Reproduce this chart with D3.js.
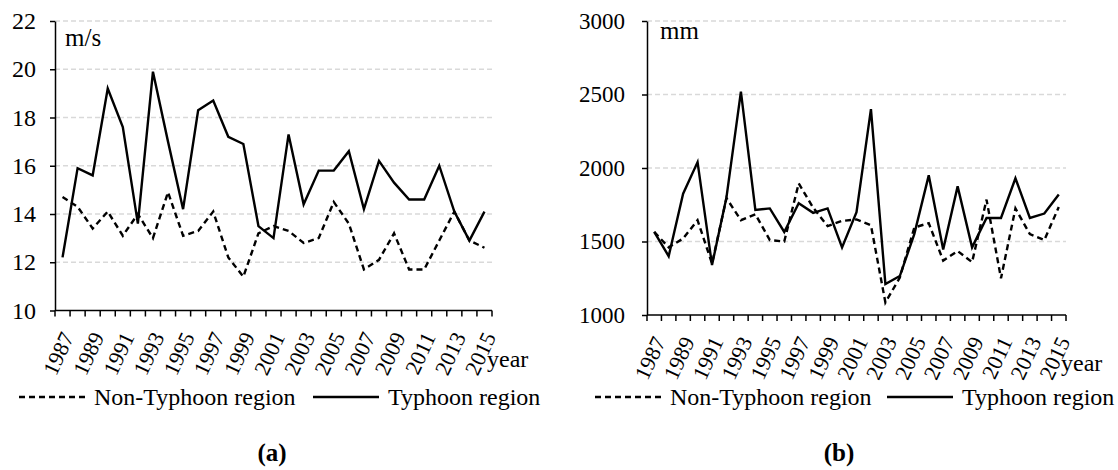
<!DOCTYPE html>
<html>
<head>
<meta charset="utf-8">
<script src="https://cdn.jsdelivr.net/npm/d3@7/dist/d3.min.js"></script>
<style>
  body { margin: 0; background: #fff; }
  svg text { font-family: "Liberation Serif", "Times New Roman", Times, serif; fill: #000; }
</style>
</head>
<body>
<svg id="chart" width="1118" height="470"></svg>
<script>
// 연도 (카테고리)
const years = [1987, 1988, 1989, 1990, 1991, 1992, 1993, 1994, 1995, 1996,
    1997, 1998, 1999, 2000, 2001, 2002, 2003, 2004, 2005, 2006,
    2007, 2008, 2009, 2010, 2011, 2012, 2013, 2014, 2015];

// (a) 풍속 m/s
const windTicks = [10, 12, 14, 16, 18, 20, 22];
const windNonTyphoon = [14.7, 14.3, 13.4, 14.1, 13.1, 14.0, 13.0, 14.9, 13.1, 13.3,
    14.1, 12.2, 11.4, 13.2, 13.5, 13.3, 12.8, 13.0, 14.5, 13.6,
    11.7, 12.1, 13.2, 11.7, 11.7, 12.9, 14.1, 12.9, 12.6];
const windTyphoon = [12.2, 15.9, 15.6, 19.2, 17.6, 13.6, 19.9, 17.0, 14.2, 18.3,
    18.7, 17.2, 16.9, 13.5, 13.0, 17.3, 14.4, 15.8, 15.8, 16.6,
    14.2, 16.2, 15.3, 14.6, 14.6, 16.0, 14.1, 12.9, 14.1];

// (b) 강수량 mm
const rainTicks = [1000, 1500, 2000, 2500, 3000];
const rainNonTyphoon = [1565, 1460, 1520, 1645, 1350, 1795, 1645, 1685, 1510, 1500,
    1895, 1730, 1605, 1640, 1650, 1610, 1085, 1255, 1595, 1625,
    1370, 1435, 1360, 1785, 1250, 1725, 1550, 1510, 1735];
const rainTyphoon = [1565, 1400, 1825, 2040, 1340, 1800, 2520, 1715, 1725, 1565,
    1760, 1695, 1725, 1460, 1700, 2400, 1210, 1265, 1550, 1950,
    1445, 1875, 1460, 1660, 1660, 1930, 1660, 1690, 1820];

const seriesNames = ['Non-Typhoon region', 'Typhoon region'];

const svg = d3.select('#chart');

function drawPanel(opt) {
    const g = svg.append('g');
    const x = d3.scaleBand().domain(years).range([opt.left, opt.right]).padding(0);
    const y = d3.scaleLinear().domain(d3.extent(opt.ticks)).range([opt.bottom, opt.top]);
    const cx = d => x(d) + x.bandwidth() / 2;

    // 그리드 라인
    g.selectAll('line.grid')
        .data(opt.ticks.slice(1))
        .enter().append('line')
        .attr('x1', opt.left).attr('x2', opt.right)
        .attr('y1', d => y(d)).attr('y2', d => y(d))
        .attr('stroke', '#d9d9d9')
        .attr('stroke-width', 1.5)
        .attr('stroke-dasharray', '5,3');

    // y축
    const yAxis = g.append('g')
        .attr('transform', `translate(${opt.left},0)`)
        .call(d3.axisLeft(y).tickValues(opt.ticks).tickFormat(d3.format('d'))
            .tickSize(5).tickPadding(opt.pad).tickSizeOuter(0));
    yAxis.attr('font-family', null).attr('font-size', null);
    yAxis.select('.domain').attr('stroke', '#000').attr('stroke-width', 1.5);
    yAxis.selectAll('.tick line').attr('stroke', '#000').attr('stroke-width', 1.5);
    yAxis.selectAll('.tick text')
        .attr('font-size', opt.tickFont)
        .attr('fill', '#000');

    // x축
    g.append('line')
        .attr('x1', opt.left).attr('x2', opt.right)
        .attr('y1', opt.bottom).attr('y2', opt.bottom)
        .attr('stroke', '#000').attr('stroke-width', 1.5);
    const bounds = years.map(d => x(d)).concat([opt.right]);
    g.selectAll('line.xtick')
        .data(bounds)
        .enter().append('line')
        .attr('x1', d => d).attr('x2', d => d)
        .attr('y1', opt.bottom).attr('y2', opt.bottom + 6)
        .attr('stroke', '#000').attr('stroke-width', 1.5);

    g.selectAll('text.xlab')
        .data(years.filter((d, i) => i % 2 === 0))
        .enter().append('text')
        .attr('transform', d => `translate(${cx(d) + 5},${opt.bottom + 23}) rotate(-65)`)
        .attr('text-anchor', 'end')
        .attr('dy', '0.35em')
        .attr('font-size', 22)
        .text(d => d);

    g.append('text')
        .attr('x', opt.right - 5).attr('y', opt.bottom + 56)
        .attr('font-size', 24)
        .text('year');

    g.append('text')
        .attr('x', opt.unitX).attr('y', opt.unitY)
        .attr('font-size', 25)
        .text(opt.unit);

    // 선 그리기
    const line = d3.line().x((d, i) => cx(years[i])).y(d => y(d));
    g.append('path')
        .datum(opt.nonTyphoon)
        .attr('d', line)
        .attr('fill', 'none')
        .attr('stroke', '#000')
        .attr('stroke-width', 2.4)
        .attr('stroke-dasharray', '6,4');
    g.append('path')
        .datum(opt.typhoon)
        .attr('d', line)
        .attr('fill', 'none')
        .attr('stroke', '#000')
        .attr('stroke-width', 2.4)
        .attr('stroke-linejoin', 'miter');

    // 범례
    const leg = g.append('g').attr('transform', `translate(0,${opt.legendY})`);
    opt.legendX.forEach((lx, i) => {
        leg.append('line')
            .attr('x1', lx).attr('x2', lx + 66)
            .attr('y1', 0).attr('y2', 0)
            .attr('stroke', '#000')
            .attr('stroke-width', 2.4)
            .attr('stroke-dasharray', i === 0 ? '6,4' : null);
        leg.append('text')
            .attr('x', lx + 75).attr('y', 8)
            .attr('font-size', 24)
            .text(seriesNames[i]);
    });

    g.append('text')
        .attr('x', opt.captionX).attr('y', 461)
        .attr('text-anchor', 'middle')
        .attr('font-size', 25)
        .attr('font-weight', 'bold')
        .text(opt.caption);
}

drawPanel({
    left: 55, right: 492, top: 21, bottom: 310.5,
    ticks: windTicks, pad: 14, tickFont: 24,
    nonTyphoon: windNonTyphoon, typhoon: windTyphoon,
    unit: 'm/s', unitX: 65, unitY: 46,
    legendY: 397, legendX: [19, 313],
    caption: '(a)', captionX: 272
});

drawPanel({
    left: 647, right: 1066, top: 21, bottom: 315,
    ticks: rainTicks, pad: 17, tickFont: 23,
    nonTyphoon: rainNonTyphoon, typhoon: rainTyphoon,
    unit: 'mm', unitX: 660, unitY: 39,
    legendY: 397, legendX: [595, 887],
    caption: '(b)', captionX: 839
});
</script>
</body>
</html>
